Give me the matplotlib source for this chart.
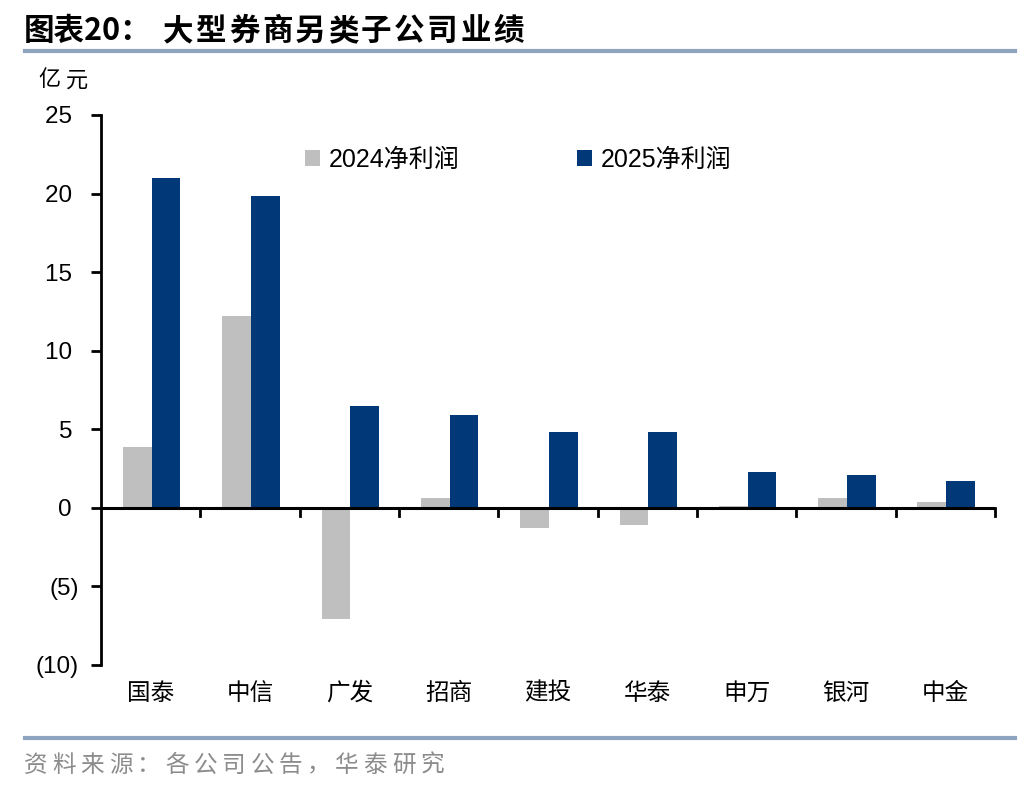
import matplotlib
matplotlib.use("Agg")
import matplotlib.pyplot as plt
import numpy as np
from matplotlib.ticker import FuncFormatter

plt.rcParams['font.family'] = ['Noto Sans CJK SC', 'DejaVu Sans']

categories = ["国泰", "中信", "广发", "招商", "建投", "华泰", "申万", "银河", "中金"]
profit_2024 = [3.9, 12.2, -7.05, 0.6, -1.3, -1.1, 0.1, 0.6, 0.4]
profit_2025 = [21.0, 19.85, 6.5, 5.9, 4.8, 4.8, 2.3, 2.1, 1.7]
series_names = ["2024净利润", "2025净利润"]
yticks = [-10, -5, 0, 5, 10, 15, 20, 25]

grey = "#BFBFBF"
navy = "#003878"

W, H = 1036, 792
fig = plt.figure(figsize=(W / 100, H / 100), dpi=100)
ax = fig.add_axes([0.0975, 0.1604, 0.8629, 0.6944])


def spaced_text(s, x0, yc, pitch, **kw):
    for i, ch in enumerate(s):
        fig.text((x0 + i * pitch) / W, 1 - yc / H, ch, ha='left', va='center', **kw)


x = np.arange(len(categories))
w = 0.29
ax.bar(x - w / 2 + 0.01, profit_2024, width=w, color=grey, label=series_names[0])
ax.bar(x + w / 2 + 0.01, profit_2025, width=w, color=navy, label=series_names[1])

ax.set_xlim(-0.5, len(categories) - 0.5)
ax.set_ylim(-10, 25)
ax.set_yticks(yticks)
ax.yaxis.set_major_formatter(FuncFormatter(lambda v, p: f"({abs(int(v))})" if v < 0 else f"{int(v)} "))
for lab in ax.get_yticklabels():
    lab.set_fontfamily(['Liberation Sans', 'DejaVu Sans'])
ax.tick_params(axis='y', direction='out', length=7, width=2, labelsize=17.5, pad=9)

ax.spines['top'].set_visible(False)
ax.spines['right'].set_visible(False)
ax.spines['bottom'].set_visible(False)
ax.spines['left'].set_linewidth(2)
ax.axhline(0, color='black', linewidth=2.2, zorder=3)

# category boundary ticks on zero line
for b in np.arange(0.5, len(categories), 1.0):
    ax.plot([b, b], [0, -0.55], color='black', linewidth=2, zorder=3, clip_on=False)

ax.set_xticks(x)
ax.set_xticklabels(categories, fontsize=17)
ax.tick_params(axis='x', length=0, pad=12)

leg = ax.legend(loc='center left', bbox_to_anchor=(0.203, 0.918), ncol=2, frameon=False,
                prop={'family': ['Liberation Sans', 'Noto Sans CJK SC'], 'size': 18},
                handlelength=0.6, handleheight=0.6, columnspacing=4.7, handletextpad=0.35)

spaced_text("亿元", 38, 80, 28, fontsize=16)

fig.text(24 / W, 1 - 31 / H, "图表20：", fontsize=22, fontweight='bold', ha='left', va='center')
spaced_text("大型券商另类子公司业绩", 163, 31, 33, fontsize=22, fontweight='bold')

fig.add_artist(plt.Line2D([0.024, 0.98], [0.936, 0.936], color='#8EA4BE', linewidth=3))
fig.add_artist(plt.Line2D([0.024, 0.98], [0.068, 0.068], color='#8EA4BE', linewidth=3))
spaced_text("资料来源：各公司公告，华泰研究", 24, 765, 28.3, fontsize=17, color='#8C8C8C')

fig.savefig("out.png", dpi=100)
